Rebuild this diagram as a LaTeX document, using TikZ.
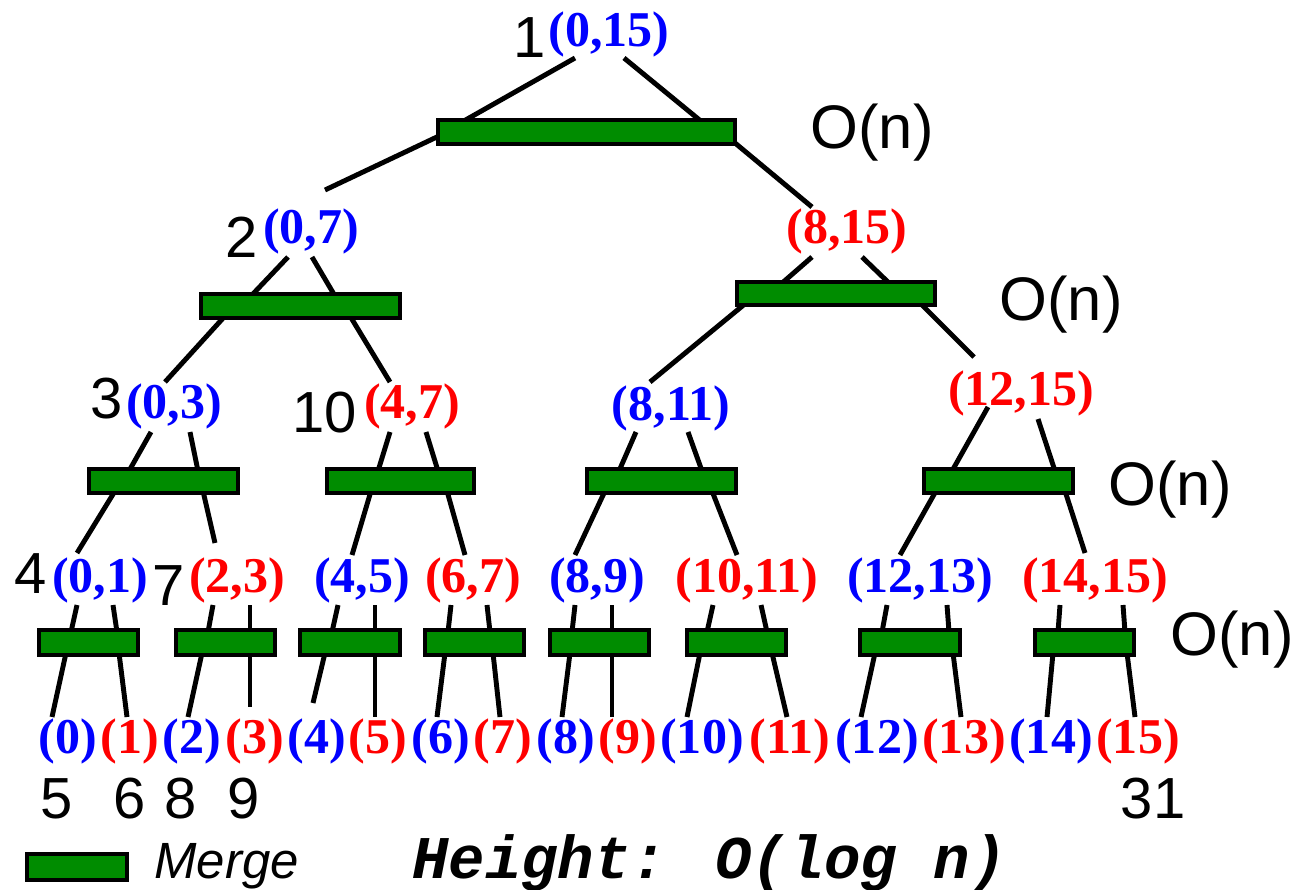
\documentclass[tikz,border=0pt]{standalone}
\usepackage{fontspec}
\setmainfont{Liberation Serif}
\newfontfamily\sansf{Liberation Sans}
\newfontfamily\monof{Liberation Mono}
\definecolor{mgreen}{RGB}{0,140,0}
\definecolor{mblue}{RGB}{0,0,255}
\definecolor{mred}{RGB}{255,0,0}
\begin{document}
\begin{tikzpicture}[x=0.02cm,y=-0.02cm,
  bar/.style={draw=black,fill=mgreen,line width=2.8pt},
  edge/.style={line width=2.8pt},
  rng/.style={font=\fontsize{28.5}{30}\selectfont\bfseries,inner sep=0pt,anchor=base},
  bl/.style={rng,text=mblue},
  rd/.style={rng,text=mred},
  num/.style={font=\sansf\fontsize{33}{36}\selectfont,inner sep=0pt,anchor=base},
  cost/.style={font=\sansf\fontsize{35}{38}\selectfont,inner sep=0pt,anchor=base}]
\useasboundingbox (0,0) rectangle (1297,889);

% ---------- labels ----------
\node[num] (n1) at (530,57) {1};
\node[bl] (r015) at (609,46) {(0,15)};
\node[cost] (c1) at (872,148) {O(n)};

\node[num] (n2) at (242,257) {2};
\node[bl] (r07) at (311,243) {(0,7)};
\node[rd] (r815) at (847,243) {(8,15)};
\node[cost] (c2) at (1061,320) {O(n)};

\node[num] (n3) at (107,418) {3};
\node[bl] (r03) at (174,418) {(0,3)};
\node[num] (n10) at (325,432) {10};
\node[rd] (r47) at (412,418) {(4,7)};
\node[bl] (r811) at (671,420) {(8,11)};
\node[rd] (r1215) at (1021,405) {(12,15)};
\node[cost] (c3) at (1170,505) {O(n)};

\node[num] (n4) at (31,593) {4};
\node[bl] (r01) at (100,592) {(0,1)};
\node[num] (n7) at (169,605) {7};
\node[rd] (r23) at (237,592) {(2,3)};
\node[bl] (r45) at (362,592) {(4,5)};
\node[rd] (r67) at (473,592) {(6,7)};
\node[bl] (r89) at (597,592) {(8,9)};
\node[rd] (r1011) at (747,592) {(10,11)};
\node[bl] (r1213) at (920,592) {(12,13)};
\node[rd] (r1415) at (1095,592) {(14,15)};
\node[cost] (c4) at (1232,655) {O(n)};

\node[bl] (l0) at (68,753) {(0)};
\node[rd] (l1) at (130,753) {(1)};
\node[bl] (l2) at (192,753) {(2)};
\node[rd] (l3) at (255,753) {(3)};
\node[bl] (l4) at (317,753) {(4)};
\node[rd] (l5) at (378,753) {(5)};
\node[bl] (l6) at (441,753) {(6)};
\node[rd] (l7) at (503,753) {(7)};
\node[bl] (l8) at (566,753) {(8)};
\node[rd] (l9) at (628,753) {(9)};
\node[bl] (l10) at (702,753) {(10)};
\node[rd] (l11) at (790,753) {(11)};
\node[bl] (l12) at (877,753) {(12)};
\node[rd] (l13) at (964,753) {(13)};
\node[bl] (l14) at (1051,753) {(14)};
\node[rd] (l15) at (1138,753) {(15)};

\node[num] (m5) at (57,818) {5};
\node[num] (m6) at (130,818) {6};
\node[num] (m8) at (181,818) {8};
\node[num] (m9) at (244,818) {9};
\node[num] (m31) at (1153,818) {31};

% ---------- edges ----------
\draw[edge] (575,58) -- (462,122) (439,136) -- (325,190);
\draw[edge] (624,58) -- (702,122) (735,143) -- (812,207);

\draw[edge] (288,257) -- (251,296) (225,316) -- (165,382);
\draw[edge] (312,257) -- (335,296) (350,316) -- (390,382);
\draw[edge] (812,257) -- (781,284) (746,303) -- (650,382);
\draw[edge] (862,257) -- (890,284) (920,303) -- (974,357);

\draw[edge] (151,432) -- (129,471) (115,491) -- (77,553);
\draw[edge] (190,432) -- (198,471) (203,491) -- (215,543);
\draw[edge] (390,432) -- (378,471) (371,491) -- (352,555);
\draw[edge] (426,432) -- (438,471) (447,491) -- (465,555);
\draw[edge] (636,432) -- (619,471) (605,491) -- (575,555);
\draw[edge] (688,432) -- (702,471) (712,491) -- (737,555);
\draw[edge] (988,407) -- (952,471) (936,491) -- (900,555);
\draw[edge] (1038,419) -- (1055,471) (1065,491) -- (1085,553);

\draw[edge] (77,605) -- (71,632) (66,653) -- (52,717);
\draw[edge] (113,605) -- (117,632) (119,653) -- (127,717);
\draw[edge] (213,605) -- (208,632) (202,653) -- (188,717);
\draw[edge] (250,605) -- (250,632) (250,653) -- (250,707);
\draw[edge] (338,605) -- (332,632) (325,653) -- (313,703);
\draw[edge] (375,605) -- (375,632) (375,653) -- (375,717);
\draw[edge] (451,605) -- (448,632) (445,653) -- (437,717);
\draw[edge] (487,605) -- (490,632) (493,653) -- (500,717);
\draw[edge] (575,605) -- (572,632) (570,653) -- (562,717);
\draw[edge] (612,605) -- (612,632) (612,653) -- (612,717);
\draw[edge] (713,605) -- (707,632) (700,653) -- (687,717);
\draw[edge] (761,605) -- (767,632) (772,653) -- (787,717);
\draw[edge] (887,605) -- (882,632) (875,653) -- (861,717);
\draw[edge] (947,605) -- (949,632) (953,653) -- (961,717);
\draw[edge] (1060,605) -- (1058,632) (1053,653) -- (1047,717);
\draw[edge] (1123,605) -- (1125,632) (1127,653) -- (1135,717);

% ---------- merge bars ----------
\draw[bar] (438,120) rectangle (735,144);
\draw[bar] (201,294) rectangle (400,318);
\draw[bar] (737,282) rectangle (935,305);
\draw[bar] (89,469) rectangle (238,493);
\draw[bar] (327,469) rectangle (474,493);
\draw[bar] (587,469) rectangle (736,493);
\draw[bar] (924,469) rectangle (1073,493);
\foreach \a/\b in {39/138,176/275,300/400,425/524,550/649,687/786,860/960,1035/1134}
  \draw[bar] (\a,630) rectangle (\b,655);

% ---------- legend ----------
\draw[bar] (27,854) rectangle (127,880);
\node[font=\sansf\itshape\fontsize{29}{30}\selectfont,anchor=base west,inner sep=0pt] (merge) at (154,878) {Merge};
\node[font=\monof\bfseries\itshape\fontsize{34.5}{36}\selectfont,anchor=base west,inner sep=0pt] (height) at (412,878) {Height: O(log n)};
\end{tikzpicture}
\end{document}
